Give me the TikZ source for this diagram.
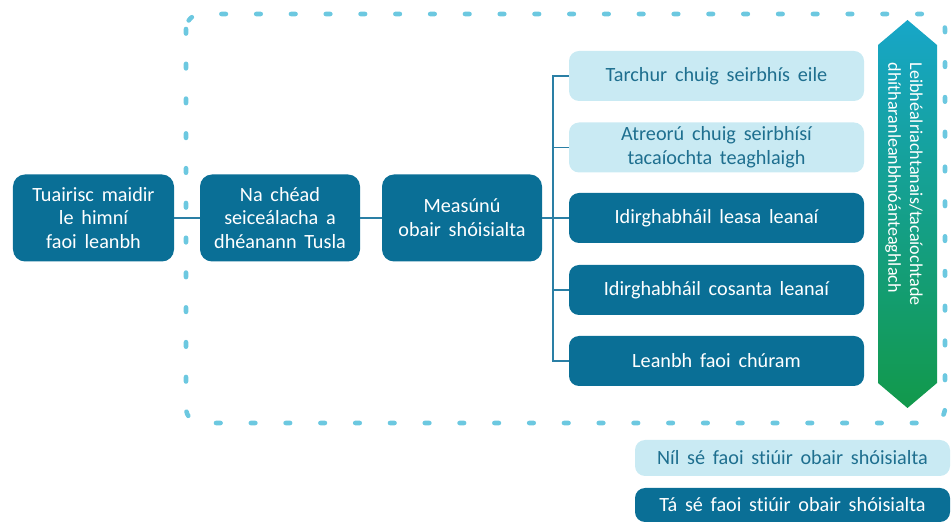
\documentclass[tikz,border=0pt]{standalone}
\usepackage{fontspec}
\setmainfont{Carlito}[WordSpace=1.7, Ligatures=CommonOff]
\usetikzlibrary{positioning,calc}
\definecolor{tuslaDark}{HTML}{0A6F96}
\definecolor{tuslaLight}{HTML}{C9EAF3}
\definecolor{tuslaText}{HTML}{1E6F8F}
\definecolor{tuslaLine}{HTML}{2A7FA5}
\definecolor{tuslaDots}{HTML}{6CC8E0}
\definecolor{levelTop}{HTML}{17A6C8}
\definecolor{levelBot}{HTML}{12994B}

\begin{document}
\begin{tikzpicture}[semithick, font=\fontsize{11.5}{13.6}\selectfont,
		stage/.style={fill=tuslaDark, text=white, rounded corners=2.4mm, outer sep=0, align=center, inner sep=0},
		dark/.style={fill=tuslaDark, text=white, rounded corners=2mm, outer sep=0, align=center, inner sep=0},
		light/.style={fill=tuslaLight, text=tuslaText, rounded corners=2mm, outer sep=0, align=center, inner sep=0},
		link/.style={draw=tuslaLine, line width=1.1pt}]
	\useasboundingbox (0,0) rectangle (19.02,-10.46);
	% dotted frame round the social work part
	\draw[tuslaDots, line width=2.6pt, line cap=round, dash pattern=on 2.6pt off 17.2pt, rounded corners=3mm]
		(3.72,-0.28) rectangle (18.90,-8.46);
	
	\node[stage, minimum width=3.22cm, minimum height=1.74cm] (report) at (1.87, -4.36) {Tuairisc maidir\\le himní\\faoi leanbh};
	\node[stage, minimum width=3.20cm, minimum height=1.74cm] (checks) at (5.60, -4.36) {Na chéad\\seiceálacha a\\dhéanann Tusla};
	\node[stage, minimum width=3.20cm, minimum height=1.74cm] (assess) at (9.24, -4.36) {Measúnú\\obair shóisialta};
	
	\node[light, minimum width=5.90cm, minimum height=1.0cm] (refer) at (14.33, -1.52) {Tarchur chuig seirbhís eile};
	\node[light, minimum width=5.90cm, minimum height=1.0cm] (divert) at (14.33, -2.95) {Atreorú chuig seirbhísí\\tacaíochta teaghlaigh};
	\node[dark, minimum width=5.90cm, minimum height=1.0cm] (welfare) at (14.33, -4.36) {Idirghabháil leasa leanaí};
	\node[dark, minimum width=5.90cm, minimum height=1.0cm] (protect) at (14.33, -5.80) {Idirghabháil cosanta leanaí};
	\node[dark, minimum width=5.90cm, minimum height=1.0cm] (care) at (14.33, -7.22) {Leanbh faoi chúram};
	
	% need level arrow
	\shade[top color=levelTop, bottom color=levelBot]
		(18.15,-0.40) -- (18.74,-0.90) -- (18.74,-7.66) -- (18.15,-8.16) -- (17.56,-7.66) -- (17.56,-0.90) -- cycle;
	\node[rotate=-90, anchor=west, text=white, align=left, font=\fontsize{10.3}{12.4}\selectfont, inner sep=0] (level) at (18.08,-1.24)
		{Leibhéalriachtanais/tacaíochtade\\dhítharanleanbhnóánteaghlach};
	
	% key
	\node[light, minimum width=6.30cm, minimum height=0.72cm] (keyNo) at (15.85, -9.16) {Níl sé faoi stiúir obair shóisialta};
	\node[dark, minimum width=6.30cm, minimum height=0.68cm] (keyYes) at (15.85, -10.10) {Tá sé faoi stiúir obair shóisialta};
	
	\coordinate (fork) at (11.06, -4.36);
	\path[link] (report) -- (checks);
	\path[link] (checks) -- (assess);
	\path[link] (assess) -- (fork);
	\foreach \out in {refer, divert, welfare, protect, care}
		\path[link] (fork) |- (\out.west);
\end{tikzpicture}
\end{document}
